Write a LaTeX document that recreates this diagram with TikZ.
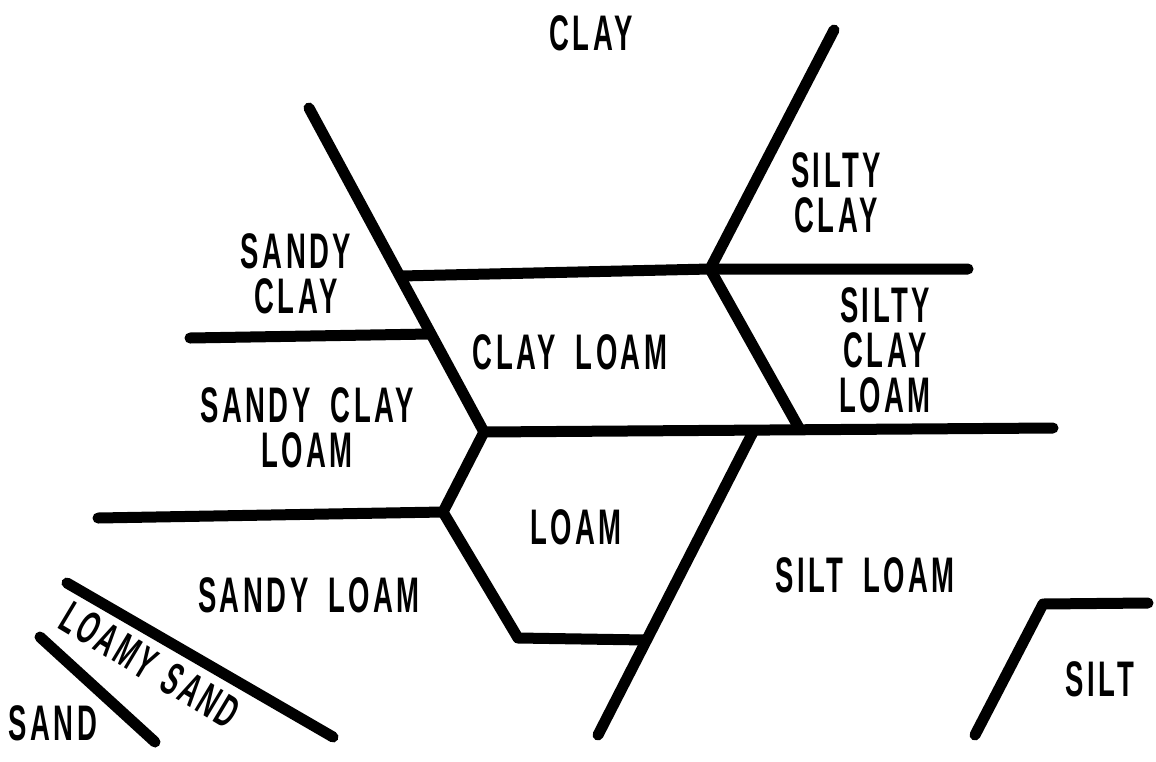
\documentclass[tikz,border=0pt]{standalone}
\usepackage{fontspec}
\setmainfont{Liberation Sans}[FakeStretch=0.55, LetterSpace=7, WordSpace=1.8]

\begin{document}
\begin{tikzpicture}[
        x=1pt, y=-1pt,
        bound/.style={line width=11pt, line cap=round, line join=round},
        zone/.style={font=\bfseries\fontsize{50}{45}\selectfont, align=center, inner sep=0pt}
    ]
    \useasboundingbox (0,0) rectangle (1156,761);

    \coordinate (ltop) at (309,108);
    \coordinate (lmid) at (401,276);
    \coordinate (lsc) at (430,334);
    \coordinate (ctr) at (484,432);
    \coordinate (sce) at (190,338);
    \coordinate (rtop) at (834,30);
    \coordinate (rmid) at (710,269);
    \coordinate (rend) at (968,269);
    \coordinate (rlow) at (799,428);
    \coordinate (lend) at (1053,428);
    \coordinate (slt) at (753,432);
    \coordinate (slb) at (598,735);
    \coordinate (lmw) at (443,512);
    \coordinate (slw) at (98,518);
    \coordinate (lmb) at (518,638);
    \coordinate (lme) at (646,640);
    \coordinate (lsa) at (67,583);
    \coordinate (lsb) at (333,737);
    \coordinate (sda) at (40,637);
    \coordinate (sdb) at (155,742);
    \coordinate (sta) at (975,735);
    \coordinate (stb) at (1043,604);
    \coordinate (stc) at (1148,603);

    \draw[bound] (ltop) -- (ctr) -- (lend);
    \draw[bound] (lmid) -- (rmid) -- (rend);
    \draw[bound] (rtop) -- (rmid) -- (rlow);
    \draw[bound] (sce) -- (lsc);
    \draw[bound] (ctr) -- (lmw) -- (lmb) -- (lme);
    \draw[bound] (slw) -- (lmw);
    \draw[bound] (slt) -- (slb);
    \draw[bound] (lsa) -- (lsb);
    \draw[bound] (sda) -- (sdb);
    \draw[bound] (sta) -- (stb) -- (stc);

    \node[zone] (clay) at (591,33) {CLAY};
    \node[zone] (siltyclay) at (836,193) {SILTY\\CLAY};
    \node[zone] (sandyclay) at (296,274) {SANDY\\CLAY};
    \node[zone] (clayloam) at (570,352) {CLAY LOAM};
    \node[zone] (siltyclayloam) at (885,350) {SILTY\\CLAY\\LOAM};
    \node[zone] (sandyclayloam) at (307,428) {SANDY CLAY\\LOAM};
    \node[zone] (loam) at (576,527) {LOAM};
    \node[zone] (siltloam) at (865,575) {SILT LOAM};
    \node[zone] (sandyloam) at (309,595) {SANDY LOAM};
    \node[zone, font=\bfseries\fontsize{46}{45}\selectfont, rotate=-31] (loamysand) at (150,665) {LOAMY\hspace{-4pt} SAND};
    \node[zone] (sand) at (53,723) {SAND};
    \node[zone] (silt) at (1100,679) {SILT};
\end{tikzpicture}
\end{document}
